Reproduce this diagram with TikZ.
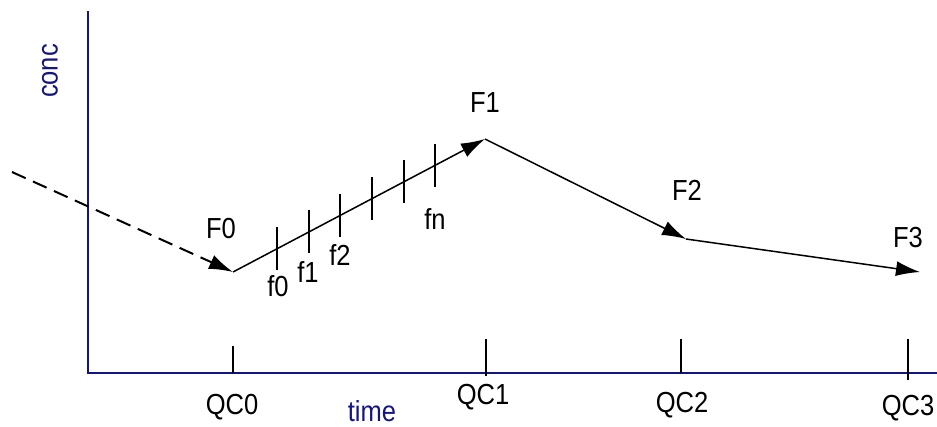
\documentclass[tikz,border=0pt]{standalone}
\usepackage{fontspec}
\setmainfont{Liberation Sans}
\usetikzlibrary{arrows.meta,calc}
\definecolor{axisblue}{RGB}{20,20,130}
\newcommand{\narrowtxt}[1]{\scalebox{0.88}[1]{#1}}
\begin{document}
\begin{tikzpicture}[x=1pt,y=-1pt,
  axisline/.style={draw=axisblue,line width=1.5pt},
  axislbl/.style={text=axisblue,font=\fontsize{29}{29}\selectfont,inner sep=0pt},
  lbl/.style={text=black,font=\fontsize{29}{29}\selectfont,inner sep=0pt},
  seg/.style={draw=black,line width=1.5pt,-{Latex[length=24pt,width=15pt]}},
  dseg/.style={seg,dash pattern=on 15pt off 8pt,line width=2pt},
  tick/.style={draw=black,line width=1.4pt}]
\useasboundingbox (0,0) rectangle (937,426);
% axes
\coordinate (top) at (88,11);
\coordinate (orig) at (88,373);
\coordinate (right) at (937,373);
\draw[axisline] (top) -- (orig) -- (right);
\node[axislbl,rotate=90] (conc) at (50,71) {\narrowtxt{conc}};
\node[axislbl] (time) at (372,411) {\narrowtxt{time}};
% points
\coordinate (S) at (12,172);
\coordinate (P0) at (233,272);
\coordinate (P1) at (485,139);
\coordinate (P2) at (686,239);
\coordinate (P3) at (920,272);
\draw[dseg] (S) -- (P0);
\draw[seg] (P0) -- (P1);
\draw[seg] (P1) -- (P2);
\draw[seg] (P2) -- (P3);
% ticks on rising segment
\foreach \t [count=\i] in {0.175,0.302,0.425,0.552,0.679,0.802}{
  \coordinate (m\i) at ($(P0)!\t!(P1)$);
  \draw[tick] ($(m\i)+(0,-21.5)$) -- ($(m\i)+(0,21.5)$);
}
\node[lbl] (f0) at (278,286) {\narrowtxt{f0}};
\node[lbl] (f1) at (308,272) {\narrowtxt{f1}};
\node[lbl] (f2) at (340,255) {\narrowtxt{f2}};
\node[lbl] (fn) at (435,219) {\narrowtxt{fn}};
\node[lbl] (F0) at (221,229) {\narrowtxt{F0}};
\node[lbl] (F1) at (485,103) {\narrowtxt{F1}};
\node[lbl] (F2) at (687,190) {\narrowtxt{F2}};
\node[lbl] (F3) at (908,238) {\narrowtxt{F3}};
% QC ticks
\coordinate (q0t) at (233,346); \coordinate (q0b) at (233,373);
\coordinate (q1t) at (486,339); \coordinate (q1b) at (486,376);
\coordinate (q2t) at (681,339); \coordinate (q2b) at (681,373);
\coordinate (q3t) at (908,339); \coordinate (q3b) at (908,380);
\draw[tick] (q0t) -- (q0b);
\draw[tick] (q1t) -- (q1b);
\draw[tick] (q2t) -- (q2b);
\draw[tick] (q3t) -- (q3b);
\node[lbl] (QC0) at (232,407) {\narrowtxt{QC0}};
\node[lbl] (QC1) at (483,397) {\narrowtxt{QC1}};
\node[lbl] (QC2) at (682,405) {\narrowtxt{QC2}};
\node[lbl] (QC3) at (908,408) {\narrowtxt{QC3}};
\end{tikzpicture}
\end{document}
